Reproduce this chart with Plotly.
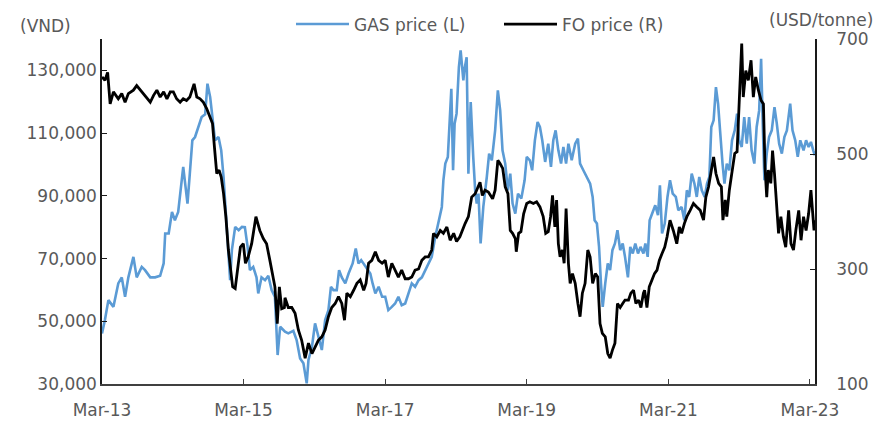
import plotly.graph_objects as go

# GAS price, VND (left axis)
gas_dates = [
    "2013-03-01", "2013-03-16", "2013-04-03", "2013-04-29", "2013-05-24", "2013-06-11", "2013-06-28",
    "2013-07-15", "2013-08-10", "2013-08-27", "2013-09-22", "2013-10-09", "2013-11-05", "2013-11-30",
    "2013-12-26", "2014-01-13", "2014-01-21", "2014-02-08", "2014-02-25", "2014-03-12", "2014-03-29",
    "2014-04-12", "2014-04-24", "2014-05-06", "2014-05-16", "2014-05-28", "2014-06-10", "2014-06-24",
    "2014-07-11", "2014-07-28", "2014-08-15", "2014-08-27", "2014-09-10", "2014-09-22", "2014-10-05",
    "2014-10-23", "2014-11-06", "2014-11-18", "2014-12-02", "2014-12-14", "2014-12-22", "2014-12-31",
    "2015-01-17", "2015-02-04", "2015-02-21", "2015-03-08", "2015-03-22", "2015-04-03", "2015-04-20",
    "2015-05-07", "2015-05-16", "2015-06-02", "2015-06-20", "2015-07-07", "2015-07-24", "2015-08-10",
    "2015-08-19", "2015-08-24", "2015-09-06", "2015-09-23", "2015-10-01", "2015-10-18", "2015-11-13",
    "2015-11-30", "2015-12-18", "2016-01-04", "2016-01-21", "2016-01-30", "2016-02-17", "2016-03-04",
    "2016-03-21", "2016-04-08", "2016-04-25", "2016-05-12", "2016-05-25", "2016-06-07", "2016-06-24",
    "2016-07-06", "2016-07-20", "2016-08-07", "2016-08-24", "2016-09-14", "2016-09-30", "2016-10-14",
    "2016-10-28", "2016-11-10", "2016-11-27", "2016-12-14", "2016-12-26", "2017-01-09", "2017-01-26",
    "2017-02-13", "2017-03-01", "2017-03-17", "2017-04-04", "2017-04-21", "2017-05-08", "2017-05-25",
    "2017-06-12", "2017-06-29", "2017-07-16", "2017-08-02", "2017-08-20", "2017-09-06", "2017-09-23",
    "2017-10-10", "2017-10-27", "2017-11-14", "2017-12-01", "2017-12-18", "2017-12-26", "2018-01-05",
    "2018-01-18", "2018-01-27", "2018-02-05", "2018-02-14", "2018-02-22", "2018-03-04", "2018-03-16",
    "2018-03-25", "2018-04-08", "2018-04-13", "2018-04-25", "2018-05-04", "2018-05-16", "2018-05-29",
    "2018-06-08", "2018-06-16", "2018-06-25", "2018-07-06", "2018-07-20", "2018-08-07", "2018-08-19",
    "2018-09-02", "2018-09-19", "2018-10-03", "2018-10-15", "2018-10-27", "2018-11-10", "2018-11-24",
    "2018-12-06", "2018-12-18", "2019-01-01", "2019-01-15", "2019-02-01", "2019-02-18", "2019-03-01",
    "2019-03-17", "2019-03-29", "2019-04-12", "2019-04-26", "2019-05-08", "2019-05-20", "2019-06-04",
    "2019-06-20", "2019-07-04", "2019-07-16", "2019-07-28", "2019-08-11", "2019-08-25", "2019-09-06",
    "2019-09-20", "2019-10-02", "2019-10-19", "2019-11-06", "2019-11-20", "2019-12-01", "2019-12-18",
    "2020-01-05", "2020-01-22", "2020-02-04", "2020-02-14", "2020-02-26", "2020-03-08", "2020-03-18",
    "2020-03-27", "2020-04-09", "2020-04-22", "2020-05-04", "2020-05-16", "2020-05-29", "2020-06-11",
    "2020-06-25", "2020-07-08", "2020-07-20", "2020-08-04", "2020-08-16", "2020-08-29", "2020-09-11",
    "2020-09-25", "2020-10-08", "2020-10-23", "2020-11-02", "2020-11-14", "2020-11-24", "2020-12-06",
    "2020-12-23", "2021-01-06", "2021-01-16", "2021-01-27", "2021-02-10", "2021-02-24", "2021-03-09",
    "2021-03-23", "2021-04-08", "2021-04-21", "2021-05-08", "2021-05-22", "2021-06-04", "2021-06-16",
    "2021-06-29", "2021-07-13", "2021-07-25", "2021-08-07", "2021-08-20", "2021-09-04", "2021-09-16",
    "2021-09-28", "2021-10-08", "2021-10-20", "2021-11-01", "2021-11-12", "2021-11-24", "2021-12-05",
    "2021-12-15", "2021-12-27", "2022-01-09", "2022-01-23", "2022-02-06", "2022-02-18", "2022-03-01",
    "2022-03-14", "2022-03-27", "2022-04-09", "2022-04-21", "2022-05-04", "2022-05-18", "2022-05-30",
    "2022-06-12", "2022-06-22", "2022-07-01", "2022-07-09", "2022-07-21", "2022-08-02", "2022-08-16",
    "2022-08-30", "2022-09-11", "2022-09-23", "2022-10-07", "2022-10-20", "2022-11-02", "2022-11-19",
    "2022-12-01", "2022-12-15", "2022-12-28", "2023-01-10", "2023-01-27", "2023-02-09", "2023-02-22",
    "2023-03-06", "2023-03-18", "2023-03-26",
]
gas_price = [
    46140, 50380, 56750, 54600, 62060, 63970, 57800,
    64000, 70540, 64000, 67350, 66300, 64000, 64000,
    64500, 68430, 78000, 78000, 84860, 82220, 84860,
    93900, 99200, 92820, 87520, 97080, 107700, 108750,
    111940, 115130, 116000, 125740, 121480, 115130, 107700,
    108750, 104500, 96000, 83270, 70540, 63100, 72670,
    80090, 79030, 80090, 80000, 73720, 66300, 67350,
    64000, 58870, 64000, 63100, 64500, 59930, 57800,
    45070, 39230, 48250, 47190, 46660, 46140, 46980,
    44010, 38170, 36580, 30200, 37640, 41880, 49330,
    45070, 40830, 50380, 53560, 61000, 59930, 59930,
    66300, 64000, 62060, 65240, 68430, 73200, 68430,
    69500, 68430, 66840, 65240, 62060, 58870, 61000,
    57800, 57800, 53560, 54600, 55670, 57800, 55140,
    55670, 58870, 62060, 61000, 63100, 64000, 66300,
    68430, 70540, 76900, 81170, 86450, 94950, 100270,
    102400, 116190, 124150, 98140, 113000, 116190, 131030,
    136350, 126790, 129980, 134210, 97080, 119890, 102400,
    91770, 87520, 90700, 74800, 86450, 96000, 103450,
    101330, 110870, 123610, 117240, 104500, 100270, 91770,
    97080, 87520, 84340, 90700, 89100, 94950, 102400,
    101330, 98140, 107700, 113520, 111940, 107700, 100800,
    106640, 99200, 107700, 110870, 104500, 100270, 105570,
    100270, 106640, 101330, 106640, 108230, 100270, 98140,
    96000, 93900, 89640, 82220, 81170, 73720, 62060,
    54600, 62060, 68430, 66300, 72670, 74800, 79030,
    72670, 74800, 70540, 64000, 73720, 71600, 74800,
    71600, 73720, 71600, 74800, 70540, 82220, 84340,
    87000, 83800, 93360, 78000, 81170, 89640, 94950,
    90700, 89640, 85400, 86450, 82220, 91770, 89640,
    97080, 93900, 89640, 96000, 91770, 89640, 93900,
    96000, 111940, 114060, 124670, 119360, 108750, 100270,
    93900, 100270, 98140, 107700, 110870, 116190, 107700,
    105570, 115130, 106640, 115130, 104500, 100270, 111940,
    117240, 133700, 111940, 94950, 103450, 108750, 110870,
    118300, 113000, 106640, 103450, 108750, 110870, 119360,
    110870, 107700, 102400, 107700, 104500, 107700, 105570,
    107170, 104500, 102930,
]

# FO price, USD/tonne (right axis)
fo_dates = [
    "2013-03-01", "2013-03-16", "2013-03-30", "2013-04-12", "2013-04-29", "2013-05-24", "2013-06-11",
    "2013-06-28", "2013-07-15", "2013-08-10", "2013-08-27", "2013-09-14", "2013-10-09", "2013-11-05",
    "2013-11-22", "2013-12-09", "2013-12-26", "2014-01-13", "2014-01-30", "2014-02-16", "2014-03-04",
    "2014-03-21", "2014-04-08", "2014-04-24", "2014-05-11", "2014-05-28", "2014-06-19", "2014-07-03",
    "2014-07-20", "2014-08-06", "2014-08-23", "2014-09-10", "2014-09-22", "2014-10-02", "2014-10-14",
    "2014-10-26", "2014-11-06", "2014-11-18", "2014-11-30", "2014-12-13", "2014-12-22", "2015-01-04",
    "2015-01-17", "2015-02-01", "2015-02-13", "2015-02-28", "2015-03-11", "2015-03-25", "2015-04-12",
    "2015-05-04", "2015-05-24", "2015-06-11", "2015-06-28", "2015-07-15", "2015-08-02", "2015-08-10",
    "2015-08-22", "2015-09-02", "2015-09-14", "2015-09-28", "2015-10-01", "2015-10-18", "2015-11-05",
    "2015-11-22", "2015-12-09", "2015-12-26", "2016-01-13", "2016-01-30", "2016-02-17", "2016-03-04",
    "2016-03-21", "2016-04-08", "2016-04-25", "2016-05-12", "2016-05-29", "2016-06-16", "2016-07-03",
    "2016-07-20", "2016-08-03", "2016-08-15", "2016-09-02", "2016-09-19", "2016-10-06", "2016-10-23",
    "2016-11-10", "2016-11-22", "2016-12-05", "2016-12-22", "2017-01-09", "2017-01-26", "2017-02-13",
    "2017-03-01", "2017-03-17", "2017-04-04", "2017-04-21", "2017-05-08", "2017-05-25", "2017-06-12",
    "2017-06-29", "2017-07-16", "2017-08-02", "2017-08-20", "2017-09-06", "2017-09-23", "2017-10-10",
    "2017-10-27", "2017-11-05", "2017-11-22", "2017-12-10", "2017-12-26", "2018-01-13", "2018-01-30",
    "2018-02-17", "2018-03-04", "2018-03-21", "2018-04-08", "2018-04-17", "2018-05-04", "2018-05-21",
    "2018-06-08", "2018-06-25", "2018-07-03", "2018-07-15", "2018-07-29", "2018-08-15", "2018-09-06",
    "2018-09-19", "2018-10-03", "2018-10-15", "2018-10-28", "2018-11-10", "2018-11-24", "2018-12-06",
    "2018-12-18", "2019-01-01", "2019-01-06", "2019-01-18", "2019-01-30", "2019-02-13", "2019-03-01",
    "2019-03-17", "2019-04-04", "2019-04-21", "2019-05-08", "2019-05-25", "2019-06-07", "2019-06-20",
    "2019-07-02", "2019-07-12", "2019-07-24", "2019-08-02", "2019-08-11", "2019-08-20", "2019-09-01",
    "2019-09-10", "2019-09-20", "2019-10-02", "2019-10-11", "2019-10-23", "2019-11-06", "2019-11-20",
    "2019-12-01", "2019-12-13", "2019-12-27", "2020-01-10", "2020-01-22", "2020-02-04", "2020-02-18",
    "2020-03-01", "2020-03-13", "2020-03-25", "2020-04-09", "2020-04-22", "2020-05-04", "2020-05-16",
    "2020-05-29", "2020-06-11", "2020-06-25", "2020-07-08", "2020-07-20", "2020-08-07", "2020-08-19",
    "2020-09-02", "2020-09-14", "2020-09-28", "2020-10-10", "2020-10-23", "2020-10-29", "2020-11-10",
    "2020-11-22", "2020-12-06", "2020-12-19", "2021-01-01", "2021-01-13", "2021-01-27", "2021-02-10",
    "2021-02-22", "2021-03-09", "2021-03-26", "2021-04-13", "2021-04-26", "2021-05-08", "2021-05-22",
    "2021-06-04", "2021-06-21", "2021-07-08", "2021-07-25", "2021-08-12", "2021-08-29", "2021-09-10",
    "2021-09-24", "2021-10-08", "2021-10-20", "2021-11-01", "2021-11-15", "2021-11-29", "2021-12-07",
    "2021-12-19", "2021-12-27", "2022-01-09", "2022-01-23", "2022-02-06", "2022-02-18", "2022-02-27",
    "2022-03-05", "2022-03-14", "2022-03-22", "2022-04-04", "2022-04-17", "2022-05-01", "2022-05-13",
    "2022-05-25", "2022-06-08", "2022-06-22", "2022-07-04", "2022-07-12", "2022-07-21", "2022-07-29",
    "2022-08-11", "2022-08-20", "2022-08-30", "2022-09-11", "2022-09-20", "2022-10-02", "2022-10-15",
    "2022-10-27", "2022-11-11", "2022-11-23", "2022-12-06", "2022-12-18", "2023-01-02", "2023-01-14",
    "2023-01-27", "2023-02-09", "2023-02-22", "2023-03-06", "2023-03-14", "2023-03-22", "2023-03-26",
]
fo_price = [
    634, 628, 642, 587, 608, 596, 605,
    590, 605, 611, 619, 611, 602, 590,
    602, 611, 599, 608, 596, 608, 608,
    596, 590, 596, 593, 599, 622, 599,
    596, 590, 579, 564, 553, 512, 466,
    472, 460, 431, 391, 333, 310, 269,
    266, 310, 338, 344, 310, 321, 344,
    391, 367, 353, 344, 315, 286, 269,
    205, 269, 231, 233, 250, 233, 233,
    223, 194, 176, 145, 171, 153, 165,
    176, 182, 194, 217, 233, 240, 252,
    240, 211, 258, 252, 263, 275, 281,
    263, 275, 310, 315, 330, 315, 310,
    315, 286, 310, 298, 286, 298, 283,
    283, 286, 298, 300, 315, 321, 321,
    333, 362, 356, 367, 362, 373, 350,
    362, 348, 356, 373, 379, 391, 425,
    431, 443, 451, 428, 437, 434, 422,
    437, 489, 483, 475, 443, 431, 367,
    362, 353, 330, 362, 365, 396, 414,
    417, 414, 417, 408, 391, 362, 365,
    391, 428, 373, 420, 344, 321, 333,
    310, 405, 310, 275, 292, 275, 240,
    217, 258, 275, 333, 321, 275, 292,
    286, 205, 188, 182, 153, 145, 159,
    171, 240, 233, 240, 246, 246, 258,
    263, 240, 246, 233, 258, 263, 233,
    269, 281, 292, 298, 315, 327, 338,
    356, 385, 367, 344, 373, 362, 379,
    391, 402, 414, 408, 402, 385, 425,
    443, 472, 495, 466, 449, 443, 385,
    420, 391, 437, 472, 501, 504, 570,
    634, 692, 599, 645, 628, 663, 599,
    634, 611, 593, 587, 477, 425, 472,
    449, 506, 466, 402, 362, 391, 356,
    338, 402, 344, 333, 367, 402, 350,
    391, 367, 396, 437, 391, 367, 385,
]

left_ticks = [30000, 50000, 70000, 90000, 110000, 130000]
right_ticks = [100, 300, 500, 700]

# the page body keeps its default 8px margin, so the figure is shifted by that
OFF = 8
W, H = 885 - OFF, 423 - OFF
L, R, T, B = 102 - OFF, 815 - OFF, 38.5 - OFF, 384 - OFF
FONT = "DejaVu Sans, Tahoma, sans-serif"
GREY = "#595959"


def px(x):
    return (x - OFF - L) / (R - L)


def py(y):
    return (B - (y - OFF)) / (B - T)


fig = go.Figure()
fig.add_trace(go.Scatter(x=gas_dates, y=gas_price, name="GAS price (L)", mode="lines",
                         line=dict(color="#5B9BD5", width=2.6)))
fig.add_trace(go.Scatter(x=fo_dates, y=fo_price, name="FO price (R)", mode="lines",
                         line=dict(color="#000000", width=2.8), yaxis="y2"))

axis_common = dict(showgrid=False, zeroline=False, showline=True, ticks="inside", ticklen=5,
                   automargin=False, tickfont=dict(family=FONT, size=17, color=GREY))

fig.update_layout(
    width=W, height=H, autosize=False,
    margin=dict(l=L, r=W - R, t=T, b=H - B, pad=0, autoexpand=False),
    paper_bgcolor="white", plot_bgcolor="white",
    font=dict(family=FONT, size=17, color=GREY),
    xaxis=dict(axis_common, type="date", range=["2013-03-01", "2023-03-27"],
               tick0="2013-03-01", dtick="M24", tickformat="%b-%y",
               linecolor="#404040", linewidth=1.5, tickcolor="#404040", ticklabelstandoff=10),
    yaxis=dict(axis_common, range=[30000, 140000], tickvals=left_ticks, tickformat=",",
               linecolor="#1a1a1a", linewidth=1.5, tickcolor="#1a1a1a", ticklabelstandoff=0),
    yaxis2=dict(axis_common, range=[100, 700], tickvals=right_ticks, overlaying="y", side="right",
                linecolor="#1a1a1a", linewidth=1.5, tickcolor="#1a1a1a", ticklabelstandoff=16),
    showlegend=True,
    legend=dict(orientation="h", x=px(291), y=py(24), xanchor="left", yanchor="middle",
                itemwidth=53, entrywidth=140, font=dict(family=FONT, size=17, color=GREY),
                bgcolor="rgba(0,0,0,0)", borderwidth=0),
    annotations=[
        dict(text="(VND)", x=px(45), y=py(25), xref="paper", yref="paper",
             xanchor="center", yanchor="middle", showarrow=False,
             font=dict(family=FONT, size=17, color=GREY)),
        dict(text="(USD/tonne)", x=px(821), y=py(19), xref="paper", yref="paper",
             xanchor="center", yanchor="middle", showarrow=False,
             font=dict(family=FONT, size=17, color=GREY)),
    ],
)

fig.write_html("out.html")
